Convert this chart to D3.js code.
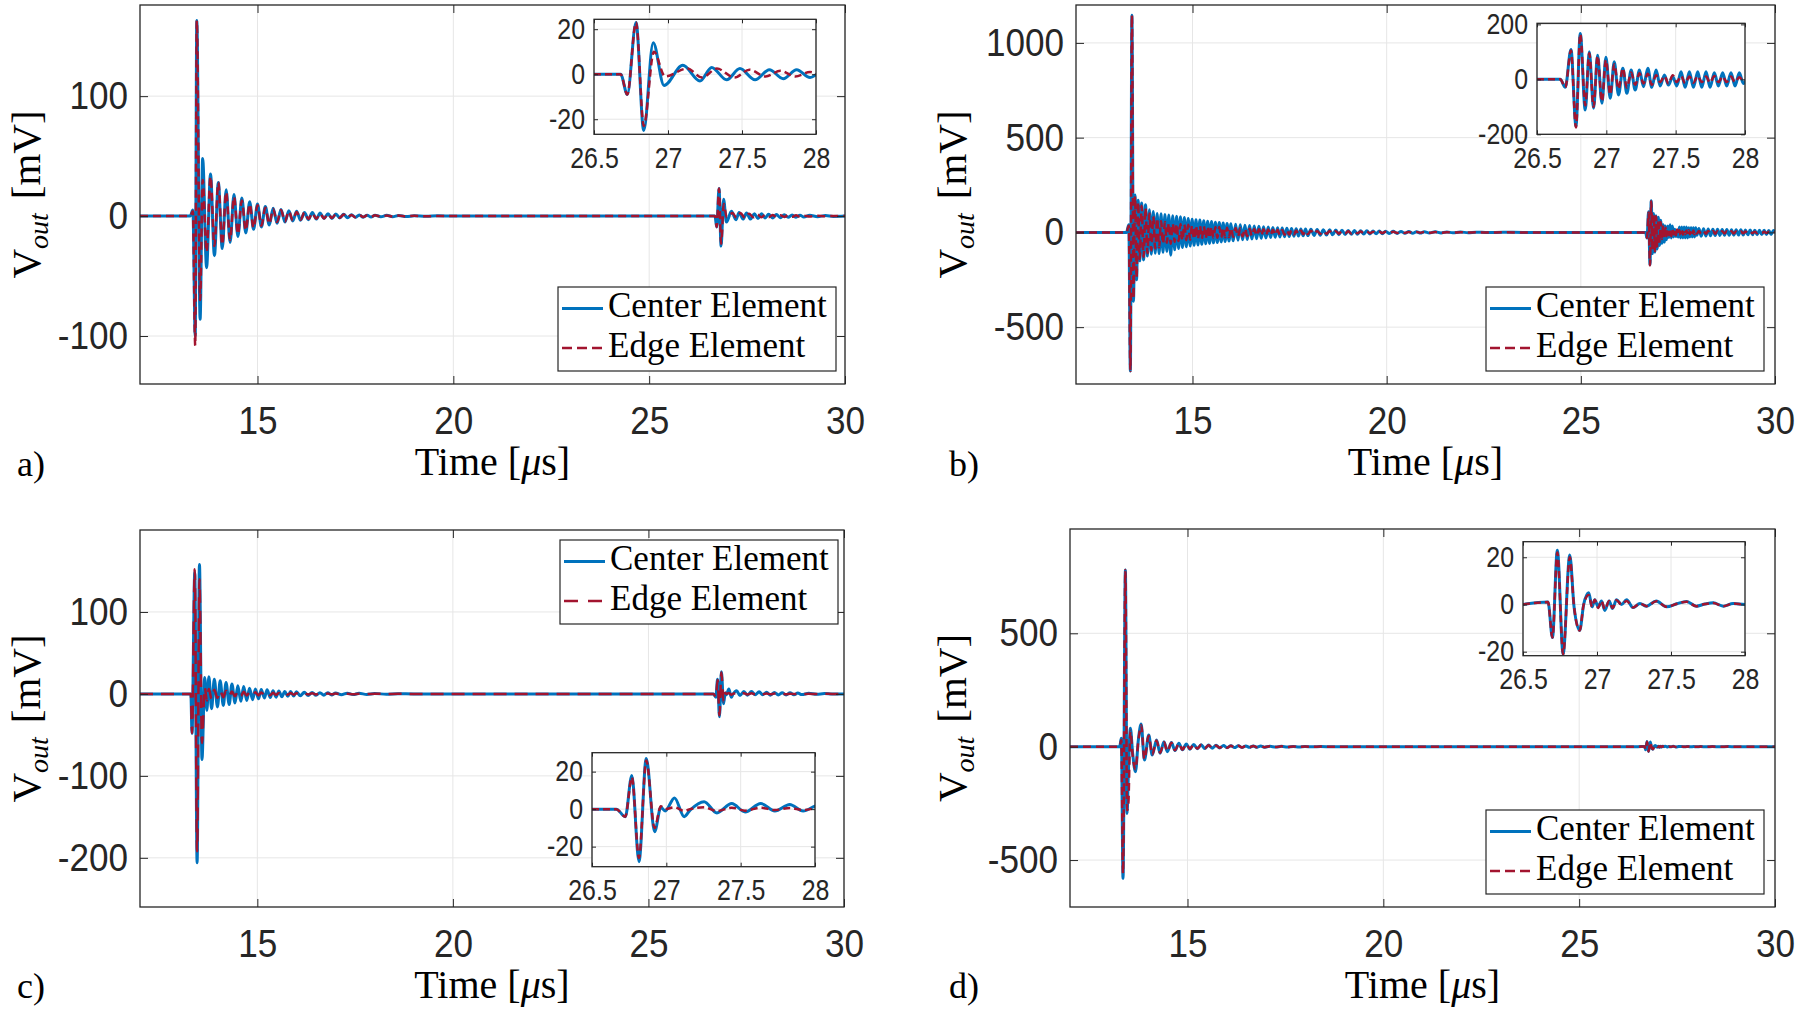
<!DOCTYPE html>
<html><head><meta charset="utf-8">
<script src="https://cdn.jsdelivr.net/npm/d3@7/dist/d3.min.js"></script>
<style>
html,body{margin:0;padding:0;background:#fff;}
svg{display:block;}
</style></head><body>
<svg id="chart" width="1800" height="1014"></svg>
<script>
// ---------------- DATA ----------------
const xTicks = [15, 20, 25, 30];
const insetXTicks = [26.5, 27, 27.5, 28];
const aYTicks = [-100, 0, 100];
const bYTicks = [-500, 0, 500, 1000];
const cYTicks = [-200, -100, 0, 100];
const dYTicks = [-500, 0, 500];
const aInsetYTicks = [-20, 0, 20];
const bInsetYTicks = [-200, 0, 200];
const cInsetYTicks = [-20, 0, 20];
const dInsetYTicks = [-20, 0, 20];
const legendLabels = ["Center Element", "Edge Element"];
const panelLabels = ["a)", "b)", "c)", "d)"];

// Panel a – main ringing (extrema, time in µs, value in mV)
const aT = [12, 13.28, 13.35, 13.41, 13.45, 13.535, 13.60, 13.70, 13.80, 13.90, 14.00, 14.10, 14.20, 14.30, 14.40, 14.50, 14.60, 14.70, 14.80, 14.90, 15.00, 15.10, 15.20, 15.30, 15.40, 15.50, 15.60, 15.70, 15.80, 15.90, 16.00, 16.10, 16.20, 16.30, 16.40, 16.50, 16.60, 16.70, 16.80, 16.90, 17.00, 17.10, 17.20, 17.30, 17.40, 17.50, 17.60, 17.70, 17.80, 17.90, 18.00, 18.15, 18.30, 18.45, 18.60, 18.80, 19.00, 19.3, 19.6, 20.0, 26.5];
const aC = [0, 0, 5, -100, 163, -86, 48, -43, 35, -33, 28, -27, 22, -22, 18, -17, 15, -14, 12, -11, 10, -9, 8, -7.5, 6.5, -6, 5.5, -5, 4.5, -4, 4, -3.5, 3, -3, 3, -2.5, 2.5, -2, 2, -2, 1.8, -1.5, 1.5, -1.3, 1.2, -1, 1, -1, 0.8, -0.8, 0.8, -0.6, 0.6, -0.5, 0.5, -0.4, 0.3, -0.2, 0.2, 0, 0];
const aE = [0, 0, 4, -108, 163, -70, 30, -30, 33, -25, 28, -24, 20, -20, 16, -15, 13, -12, 10, -10, 9, -8, 7, -6.5, 6, -5, 5, -4.5, 4, -3.5, 3.5, -3, 3, -2.5, 2.5, -2.2, 2, -2, 1.8, -1.6, 1.5, -1.4, 1.3, -1.2, 1, -1, 0.9, -0.8, 0.7, -0.7, 0.6, -0.5, 0.5, -0.4, 0.4, -0.3, 0.3, -0.2, 0.1, 0, 0];
// Panel a – echo (inset region and tail)
const aEchoTC = [26.5, 26.68, 26.725, 26.784, 26.836, 26.90, 26.973, 27.10, 27.216, 27.295, 27.396, 27.486, 27.588, 27.685, 27.779, 27.869, 27.96, 28.05, 28.15, 28.25, 28.35, 28.45, 28.55, 28.65, 28.75, 28.85, 28.95, 29.1, 29.3, 29.5, 29.7, 30];
const aEchoC = [0, 0, -9, 23, -25, 14, -5, 4, -3, 3, -2.5, 2.5, -2.5, 2, -2, 2, -1.5, 1.5, -1.5, 1.3, -1.3, 1.2, -1, 1, -1, 0.8, -0.8, 0.6, -0.5, 0.4, -0.3, 0];
const aEchoTE = [26.5, 26.68, 26.725, 26.784, 26.836, 26.905, 26.98, 27.13, 27.23, 27.33, 27.45, 27.55, 27.66, 27.76, 27.86, 27.96, 28.05, 28.15, 28.25, 28.35, 28.45, 28.55, 28.65, 28.75, 28.85, 28.95, 29.1, 29.3, 29.5, 29.7, 30];
const aEchoE = [0, 0, -9, 23, -23, 10, -1, 2.5, -1.5, 2.5, -1.5, 2, -1, 1.5, -1, 1, -1, 1, -0.8, 0.8, -0.7, 0.7, -0.6, 0.6, -0.5, 0.4, -0.4, 0.3, -0.2, 0.1, 0];

// Panel b – main ringing
const bT = [12, 13.30, 13.36, 13.40, 13.44, 13.48, 13.52, 13.56, 13.60, 13.64,
  13.69, 13.74, 13.79, 13.84, 13.89, 13.94, 13.99, 14.04, 14.09, 14.14,
  14.19, 14.24, 14.29, 14.34, 14.39, 14.44, 14.49, 14.54, 14.59, 14.64,
  14.69, 14.74, 14.79, 14.84, 14.89, 14.94, 14.99, 15.04, 15.09, 15.14,
  15.19, 15.24, 15.29, 15.34, 15.39, 15.44, 15.49, 15.54, 15.59, 15.64,
  15.69, 15.74, 15.79, 15.84, 15.89, 15.94, 15.99, 16.05, 16.11, 16.17,
  16.23, 16.29, 16.35, 16.41, 16.47, 16.53, 16.59, 16.65, 16.71, 16.77,
  16.83, 16.89, 16.95, 17.01, 17.07, 17.13, 17.19, 17.25, 17.31, 17.37,
  17.43, 17.49, 17.55, 17.61, 17.67, 17.73, 17.79, 17.85, 17.91, 17.97,
  18.05, 18.13, 18.21, 18.29, 18.37, 18.45, 18.53, 18.61, 18.69, 18.77,
  18.85, 18.93, 19.01, 19.09, 19.17, 19.25, 19.33, 19.41, 19.49, 19.57,
  19.65, 19.73, 19.81, 19.89, 19.97, 20.07, 20.17, 20.27, 20.37, 20.47,
  20.57, 20.67, 20.77, 20.87, 20.97, 21.1, 21.25, 21.4, 21.55, 21.7,
  21.9, 22.1, 22.3, 22.6, 23.0, 23.5, 24.0, 26.5];
const bC = [0, 0, 40, -731, 1146, -363, 198, -250, 170, -150,
  155, -145, 146, -125, 120, -115, 110, -110, 100, -112,
  98, -105, 95, -100, 92, -120, 88, -92, 85, -85,
  82, -80, 78, -76, 74, -72, 70, -68, 67, -66,
  65, -63, 62, -60, 59, -58, 57, -55, 54, -53,
  52, -50, 49, -48, 47, -46, 45, -44, 43, -41,
  40, -39, 38, -37, 36, -35, 34, -33, 32, -31,
  30, -29, 28, -27, 26.5, -26, 25, -24, 23.5, -23,
  22, -21.5, 21, -20, 19.5, -19, 18.5, -18, 17.5, -17,
  16.5, -16, 15.5, -15, 14.5, -14, 13.5, -13, 12.5, -12,
  11.5, -11, 10.5, -10, 9.5, -9.2, 9, -8.6, 8.2, -7.8,
  7.5, -7.2, 7, -6.7, 6.4, -6, 5.7, -5.4, 5.1, -4.8,
  4.5, -4.2, 4, -3.8, 3.5, -3.2, 3, -2.7, 2.5, -2.2,
  2, -1.7, 1.4, -1, 0.7, -0.4, 0, 0];
const bE = [0, 0, 35, -731, 1146, -350, 190, -240, 160, -140,
  140, -130, 130, -110, 100, -95, 85, -85, 75, -80,
  60, -60, 55, -55, 50, -60, 48, -50, 46, -46,
  44, -43, 42, -41, 40, -39, 38, -37, 36, -35,
  35, -34, 33, -32, 32, -31, 30, -30, 29, -28,
  28, -27, 26, -26, 25, -25, 24, -24, 23, -22,
  22, -21, 20, -20, 19, -19, 18, -18, 17, -17,
  16, -16, 15, -15, 14, -14, 13.5, -13, 12.5, -12,
  12, -11.5, 11, -11, 10.5, -10, 10, -9.5, 9.5, -9,
  9, -8.5, 8, -8, 7.5, -7.5, 7, -7, 6.5, -6.5,
  6, -6, 5.5, -5.5, 5, -5, 4.8, -4.6, 4.4, -4.2,
  4, -3.9, 3.8, -3.6, 3.4, -3.2, 3, -2.9, 2.8, -2.6,
  2.4, -2.3, 2.2, -2, 1.9, -1.7, 1.6, -1.5, 1.4, -1.2,
  1.1, -0.9, 0.8, -0.6, 0.4, -0.2, 0, 0];
// Panel b – echo
const bEchoT = [26.5, 26.668, 26.704, 26.745, 26.781, 26.812, 26.848, 26.877, 26.908, 26.937,
  26.968, 26.997, 27.028, 27.057, 27.088, 27.119, 27.148, 27.179, 27.208, 27.239,
  27.268, 27.299, 27.328, 27.359, 27.388, 27.419, 27.448, 27.479, 27.508, 27.539,
  27.568, 27.599, 27.628, 27.659, 27.688, 27.719, 27.748, 27.779, 27.808, 27.839,
  27.868, 27.899, 27.928, 27.959, 27.988,
  28.04, 28.10, 28.16, 28.22, 28.28, 28.34, 28.40, 28.46, 28.52, 28.58,
  28.64, 28.70, 28.76, 28.82, 28.88, 28.94, 29.00, 29.06, 29.12, 29.18,
  29.24, 29.30, 29.36, 29.42, 29.48, 29.54, 29.60, 29.66, 29.72, 29.78,
  29.84, 29.90, 29.96, 30];
const bEchoC = [0, 0, -29, 109, -170, 167, -112, 100, -105, 88,
  -87, 80, -69, 64, -57, 40, -51, 34, -39, 34,
  -27, 40, -29, 34, -24, 16, -21, 10, -24, 28,
  -29, 28, -29, 28, -29, 28, -29, 24, -24, 24,
  -24, 24, -24, 24, -15,
  20, -20, 19, -19, 18, -18, 17, -17, 16, -16,
  15.5, -15.5, 15, -15, 14.5, -14.5, 14, -14, 13.5, -13.5,
  13, -13, 12.5, -12.5, 12, -12, 11.5, -11.5, 11, -11,
  10.5, -10.5, 10, 0];
const bEchoE = [0, 0, -29, 105, -175, 165, -95, 95, -100, 85,
  -80, 70, -55, 55, -35, 40, -30, 25, -20, 22,
  -15, 20, -20, 15, -10, 12, -15, 15, -10, 12,
  -14, 10, -12, 12, -10, 10, -12, 12, -10, 10,
  -10, 10, -10, 8, -6,
  8, -8, 7.5, -7.5, 7, -7, 7, -7, 6.5, -6.5,
  6, -6, 6, -6, 5.5, -5.5, 5, -5, 5, -5,
  4.5, -4.5, 4, -4, 4, -4, 3.5, -3.5, 3, -3,
  3, -3, 2.5, 0];

// Panel c – main ringing
const cT = [12, 13.30, 13.33, 13.40, 13.46, 13.52, 13.585, 13.655, 13.71, 13.76, 13.83, 13.90, 13.98, 14.05, 14.13, 14.20, 14.28, 14.35, 14.43, 14.50, 14.58, 14.65, 14.73, 14.80, 14.88, 14.95, 15.03, 15.10, 15.18, 15.25, 15.33, 15.40, 15.48, 15.55, 15.63, 15.70, 15.78, 15.85, 15.93, 16.00, 16.10, 16.20, 16.30, 16.40, 16.50, 16.60, 16.70, 16.80, 16.90, 17.00, 17.15, 17.30, 17.45, 17.60, 17.80, 18.00, 18.3, 18.6, 19.0, 26.5];
const cC = [0, 0, -48, 148, -206, 158, -80, 20, -20, 21, -18, 18, -16, 16, -14, 14, -13, 12, -11, 10, -9, 9, -8, 7, -7, 6, -6, 5.5, -5, 5, -4.5, 4, -4, 3.5, -3.5, 3, -3, 2.8, -2.5, 2.5, -2.2, 2, -2, 1.8, -1.7, 1.5, -1.5, 1.3, -1.2, 1.1, -1, 0.9, -0.8, 0.7, -0.6, 0.5, -0.4, 0.3, 0, 0];
const cE = [0, 0, -48, 152, -192, 140, -60, 8, -8, 6, -6, 5, -5, 4, -4, 4, -3, 3, -3, 3, -2.5, 2.5, -2, 2, -2, 2, -1.8, 1.8, -1.5, 1.5, -1.5, 1.3, -1.3, 1.2, -1.2, 1, -1, 1, -0.9, 0.9, -0.8, 0.8, -0.7, 0.7, -0.6, 0.6, -0.5, 0.5, -0.5, 0.4, -0.4, 0.3, -0.3, 0.3, -0.2, 0.2, -0.1, 0.1, 0, 0];
// Panel c – echo
const cEchoT = [26.5, 26.663, 26.724, 26.768, 26.816, 26.865, 26.921, 26.963, 26.992, 27.055, 27.12, 27.16, 27.254, 27.34, 27.44, 27.53, 27.635, 27.73, 27.83, 27.92, 28.02, 28.12, 28.22, 28.32, 28.42, 28.52, 28.62, 28.72, 28.82, 28.92, 29.1, 29.3, 29.5, 29.7, 30];
const cEchoC = [0, 0, -4, 18, -28, 27, -12, 1, -1, 6, -4, -0.5, 4, -2, 3, -1.5, 3, -1, 2.5, -1, 2, -1.5, 1.8, -1.2, 1.5, -1.2, 1.3, -1, 1, -0.8, 0.7, -0.5, 0.4, -0.2, 0];
const cEchoE = [0, 0, -4, 17, -26, 26, -10, 1.5, 0, 1, -1, 0, 1, -1, 0.8, -0.8, 0.8, -0.5, 0.6, -0.5, 0.5, -0.4, 0.4, -0.3, 0.3, -0.3, 0.3, -0.2, 0.2, -0.2, 0.1, -0.1, 0.1, 0, 0];

// Panel d – main ringing
const dT = [12, 13.268, 13.311, 13.354, 13.414, 13.457, 13.49, 13.542, 13.60, 13.671, 13.745, 13.817, 13.90, 14.01, 14.10, 14.21, 14.30, 14.40, 14.485, 14.59, 14.68, 14.78, 14.87, 14.97, 15.06, 15.16, 15.25, 15.35, 15.44, 15.54, 15.63, 15.73, 15.82, 15.92, 16.01, 16.11, 16.20, 16.30, 16.39, 16.49, 16.58, 16.68, 16.77, 16.87, 16.96, 17.1, 17.25, 17.4, 17.55, 17.7, 17.85, 18.0, 18.2, 18.4, 18.7, 19.0, 26.5];
const dC = [0, 0, 37, -581, 779, -294, -120, 81, -30, -110, 30, 100, -59, 51, -37, 29, -29, 22, -22, 18, -17, 15, -14, 12, -11, 10, -9, 8.5, -8, 7, -6.5, 6, -5.5, 5, -4.5, 4.5, -4, 4, -3.5, 3.5, -3, 3, -2.7, 2.5, -2.3, 2, -1.8, 1.6, -1.4, 1.2, -1, 0.8, -0.6, 0.5, -0.3, 0, 0];
const dE = [0, 0, 30, -560, 779, -280, -250, 70, -40, -100, 25, 95, -55, 48, -35, 27, -27, 20, -20, 17, -16, 14, -13, 11, -10, 9.5, -8.5, 8, -7.5, 6.5, -6, 5.5, -5, 4.5, -4.2, 4.2, -3.8, 3.8, -3.3, 3.3, -2.8, 2.8, -2.5, 2.3, -2.1, 1.9, -1.7, 1.5, -1.3, 1.1, -0.9, 0.7, -0.5, 0.4, -0.2, 0, 0];
// Panel d – echo
const dEchoT = [26.5, 26.669, 26.699, 26.732, 26.771, 26.816, 26.845, 26.883, 26.91, 26.944, 26.967, 26.985, 27.008, 27.03, 27.053, 27.082, 27.105, 27.132, 27.166, 27.2, 27.244, 27.29, 27.335, 27.40, 27.47, 27.54, 27.605, 27.67, 27.73, 27.786, 27.853, 27.92, 28.0, 28.1, 28.25, 28.4, 28.6, 28.8, 29.0, 29.3, 29.6, 30];
const dEchoC = [0, 1, -14, 23, -21, 21, -1, -11, 0, 5, -1, 2, -1, 1.5, -2.5, 1.5, -1.7, 2, 0, 2, -1.3, 0.4, -0.7, 1.5, -1, 0.3, 1.3, -0.7, 0.2, 0.7, -0.7, 0.4, 0, 0.5, -0.5, 0.4, -0.4, 0.3, -0.3, 0.2, -0.1, 0];
const dEchoE = [0, 1, -14, 22, -21, 20, -1, -11, 0, 4, -1, 2, -1.5, 1.5, -2, 1.5, -1.5, 1.8, 0, 1.5, -1.3, 0.4, -0.7, 1.4, -1, 0.3, 1.2, -0.7, 0.2, 0.6, -0.7, 0.4, 0, 0.5, -0.5, 0.4, -0.4, 0.3, -0.3, 0.2, -0.1, 0];

// ---------------- STYLE / LAYOUT ----------------
const BLUE = "#0072BD", RED = "#A2142F", AXC = "#262626", GRID = "#e6e6e6";
const SANS = "'Liberation Sans', Arial, Helvetica, sans-serif";
const SERIF = "'Liberation Serif', 'Times New Roman', serif";

const zip = (T, V) => T.map((t, i) => [t, V[i]]);

const panels = [
  { id: "a", label: panelLabels[0], box: {x0: 140, x1: 845, y0: 5, y1: 384}, yDom: [-140, 176], yTicks: aYTicks,
    center: zip(aT, aC).concat(zip(aEchoTC, aEchoC).slice(1)),
    edge: zip(aT, aE).concat(zip(aEchoTE, aEchoE).slice(1)),
    echoC: zip(aEchoTC, aEchoC), echoE: zip(aEchoTE, aEchoE),
    inset: {x0: 594, x1: 816, y0: 19.3, y1: 134.3, yDom: [-26.7, 24.4], yTicks: aInsetYTicks},
    legend: {x: 558, y: 287, w: 278, h: 84}, dash: "8,5", legDash: "10,5",
    ylabX: 40, labX: 17, labY: 476 },
  { id: "b", label: panelLabels[1], box: {x0: 1076, x1: 1775, y0: 5, y1: 384}, yDom: [-800, 1200], yTicks: bYTicks,
    center: zip(bT, bC).concat(zip(bEchoT, bEchoC).slice(1)),
    edge: zip(bT, bE).concat(zip(bEchoT, bEchoE).slice(1)),
    echoC: zip(bEchoT, bEchoC), echoE: zip(bEchoT, bEchoE),
    inset: {x0: 1537, x1: 1745, y0: 23.3, y1: 134.3, yDom: [-200, 204], yTicks: bInsetYTicks},
    legend: {x: 1486, y: 287, w: 278, h: 84}, dash: "8,5", legDash: "10,5",
    ylabX: 966, labX: 949, labY: 476 },
  { id: "c", label: panelLabels[2], box: {x0: 140, x1: 844, y0: 530, y1: 907}, yDom: [-260, 200], yTicks: cYTicks,
    center: zip(cT, cC).concat(zip(cEchoT, cEchoC).slice(1)),
    edge: zip(cT, cE).concat(zip(cEchoT, cEchoE).slice(1)),
    echoC: zip(cEchoT, cEchoC), echoE: zip(cEchoT, cEchoE),
    inset: {x0: 592, x1: 815, y0: 752.7, y1: 866.7, yDom: [-30.7, 30.1], yTicks: cInsetYTicks},
    legend: {x: 560, y: 540, w: 278, h: 84}, dash: "13,8", legDash: "14,10",
    ylabX: 40, labX: 17, labY: 998 },
  { id: "d", label: panelLabels[3], box: {x0: 1070, x1: 1775, y0: 529, y1: 907}, yDom: [-707, 960], yTicks: dYTicks,
    center: zip(dT, dC).concat(zip(dEchoT, dEchoC).slice(1)),
    edge: zip(dT, dE).concat(zip(dEchoT, dEchoE).slice(1)),
    echoC: zip(dEchoT, dEchoC), echoE: zip(dEchoT, dEchoE),
    inset: {x0: 1523, x1: 1745, y0: 541.7, y1: 655.7, yDom: [-21.7, 26.6], yTicks: dInsetYTicks},
    legend: {x: 1486, y: 810, w: 278, h: 84}, dash: "8,5", legDash: "10,5",
    ylabX: 966, labX: 949, labY: 998 }
];

const svg = d3.select("#chart");
const defs = svg.append("defs");

// condensed Helvetica-like tick labels
function styleAxis(sel, size, sx, leftPad) {
  sel.select(".domain").remove();
  sel.selectAll("line").attr("stroke", AXC).attr("stroke-width", 1);
  const t = sel.selectAll("text").attr("font-family", SANS).attr("font-size", size).attr("fill", AXC)
    .attr("transform", `scale(${sx},1)`);
  if (leftPad != null) t.attr("x", -leftPad / sx);
}

function drawGrid(g, x, y, xt, yt, b) {
  g.append("g").selectAll("line").data(xt).join("line")
    .attr("x1", d => x(d)).attr("x2", d => x(d)).attr("y1", b.y0).attr("y2", b.y1)
    .attr("stroke", GRID).attr("stroke-width", 1);
  g.append("g").selectAll("line").data(yt).join("line")
    .attr("y1", d => y(d)).attr("y2", d => y(d)).attr("x1", b.x0).attr("x2", b.x1)
    .attr("stroke", GRID).attr("stroke-width", 1);
}

function drawFrame(g, x, y, xt, yt, b, tick, fontSize, sx, xPad, yPad) {
  g.append("rect").attr("x", b.x0).attr("y", b.y0).attr("width", b.x1 - b.x0).attr("height", b.y1 - b.y0)
    .attr("fill", "none").attr("stroke", AXC).attr("stroke-width", 1.3);
  g.append("g").attr("transform", `translate(0,${b.y1})`)
    .call(d3.axisBottom(x).tickValues(xt).tickSizeInner(-tick).tickSizeOuter(0).tickPadding(xPad).tickFormat(d => String(d)))
    .call(s => styleAxis(s, fontSize, sx, null));
  g.append("g").attr("transform", `translate(0,${b.y0})`)
    .call(d3.axisTop(x).tickValues(xt).tickSizeInner(-tick).tickSizeOuter(0).tickFormat(() => ""))
    .call(s => styleAxis(s, fontSize, sx, null));
  g.append("g").attr("transform", `translate(${b.x0},0)`)
    .call(d3.axisLeft(y).tickValues(yt).tickSizeInner(-tick).tickSizeOuter(0).tickPadding(yPad).tickFormat(d => String(d)))
    .call(s => styleAxis(s, fontSize, sx, yPad));
  g.append("g").attr("transform", `translate(${b.x1},0)`)
    .call(d3.axisRight(y).tickValues(yt).tickSizeInner(-tick).tickSizeOuter(0).tickFormat(() => ""))
    .call(s => styleAxis(s, fontSize, sx, null));
}

function drawPanel(p) {
  const g = svg.append("g");
  const b = p.box;
  const x = d3.scaleLinear().domain([12, 30]).range([b.x0, b.x1]);
  const y = d3.scaleLinear().domain(p.yDom).range([b.y1, b.y0]);

  drawGrid(g, x, y, xTicks, p.yTicks, b);

  defs.append("clipPath").attr("id", "clip-" + p.id).append("rect")
    .attr("x", b.x0).attr("y", b.y0).attr("width", b.x1 - b.x0).attr("height", b.y1 - b.y0);
  const line = d3.line().x(d => x(d[0])).y(d => y(d[1])).curve(d3.curveMonotoneX);
  const lg = g.append("g").attr("clip-path", `url(#clip-${p.id})`);
  lg.append("path").datum(p.center).attr("d", line).attr("fill", "none")
    .attr("stroke", BLUE).attr("stroke-width", 3).attr("stroke-linejoin", "round");
  lg.append("path").datum(p.edge).attr("d", line).attr("fill", "none")
    .attr("stroke", RED).attr("stroke-width", 2.5).attr("stroke-dasharray", p.dash);

  drawFrame(g, x, y, xTicks, p.yTicks, b, 8, 39, 0.9, 22, 12);

  // inset
  const ib = p.inset;
  const ig = svg.append("g");
  ig.append("rect").attr("x", ib.x0).attr("y", ib.y0).attr("width", ib.x1 - ib.x0).attr("height", ib.y1 - ib.y0)
    .attr("fill", "#fff");
  const ix = d3.scaleLinear().domain([26.5, 28]).range([ib.x0, ib.x1]);
  const iy = d3.scaleLinear().domain(ib.yDom).range([ib.y1, ib.y0]);
  drawGrid(ig, ix, iy, insetXTicks, ib.yTicks, ib);
  defs.append("clipPath").attr("id", "iclip-" + p.id).append("rect")
    .attr("x", ib.x0).attr("y", ib.y0).attr("width", ib.x1 - ib.x0).attr("height", ib.y1 - ib.y0);
  const iline = d3.line().x(d => ix(d[0])).y(d => iy(d[1])).curve(d3.curveMonotoneX);
  const ilg = ig.append("g").attr("clip-path", `url(#iclip-${p.id})`);
  ilg.append("path").datum(p.echoC).attr("d", iline).attr("fill", "none")
    .attr("stroke", BLUE).attr("stroke-width", 3).attr("stroke-linejoin", "round");
  ilg.append("path").datum(p.echoE).attr("d", iline).attr("fill", "none")
    .attr("stroke", RED).attr("stroke-width", 2.5).attr("stroke-dasharray", "7,4");
  drawFrame(ig, ix, iy, insetXTicks, ib.yTicks, ib, 4, 29, 0.86, 13, 9);

  // legend
  const L = p.legend;
  const leg = svg.append("g");
  leg.append("rect").attr("x", L.x).attr("y", L.y).attr("width", L.w).attr("height", L.h)
    .attr("fill", "#fff").attr("stroke", AXC).attr("stroke-width", 1.2);
  const rows = [{c: BLUE, dash: null, w: 3}, {c: RED, dash: p.legDash, w: 2.5}];
  rows.forEach((r, i) => {
    const by = L.y + 30 + i * 39.5;
    leg.append("line").attr("x1", L.x + 4).attr("x2", L.x + 45).attr("y1", by - 8.5).attr("y2", by - 8.5)
      .attr("stroke", r.c).attr("stroke-width", r.w).attr("stroke-dasharray", r.dash);
    leg.append("text").attr("x", L.x + 50).attr("y", by).text(legendLabels[i])
      .attr("font-family", SERIF).attr("font-size", 35).attr("fill", "#000");
  });

  // axis titles
  const xl = svg.append("text").attr("x", (b.x0 + b.x1) / 2).attr("y", b.y1 + 91)
    .attr("text-anchor", "middle").attr("font-family", SERIF).attr("font-size", 40).attr("fill", "#000");
  xl.append("tspan").text("Time [");
  xl.append("tspan").attr("font-style", "italic").text("\u03bc");
  xl.append("tspan").text("s]");

  const yl = svg.append("text")
    .attr("transform", `translate(${p.ylabX},${(b.y0 + b.y1) / 2}) rotate(-90)`)
    .attr("text-anchor", "middle").attr("font-family", SERIF).attr("font-size", 41).attr("fill", "#000");
  yl.append("tspan").text("V");
  yl.append("tspan").attr("font-style", "italic").attr("font-size", 28).attr("dy", 8).text("out");
  yl.append("tspan").attr("dy", -8).attr("dx", 14).text("[mV]");

  svg.append("text").attr("x", p.labX).attr("y", p.labY).text(p.label)
    .attr("font-family", SERIF).attr("font-size", 36).attr("fill", "#000");
}

panels.forEach(drawPanel);
</script>
</body></html>
